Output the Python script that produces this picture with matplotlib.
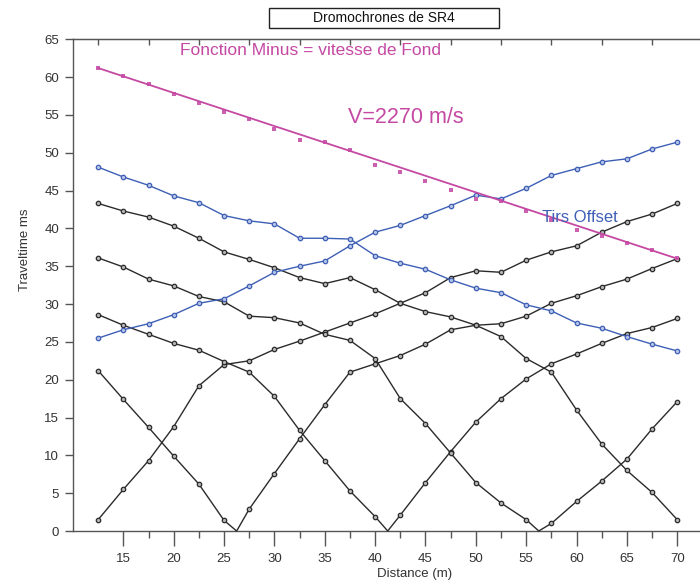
import numpy as np
import matplotlib
matplotlib.use("Agg")
import matplotlib.pyplot as plt
from matplotlib.patches import Rectangle
from matplotlib.ticker import FixedLocator

plt.rcParams["font.family"] = ["Liberation Sans", "DejaVu Sans"]

# geophone positions (m)
dist = [12.5, 15, 17.5, 20, 22.5, 25, 27.5, 30, 32.5, 35, 37.5, 40,
        42.5, 45, 47.5, 50, 52.5, 55, 57.5, 60, 62.5, 65, 67.5, 70]

# direct/refracted shots (black), shot position -> traveltimes (ms)
shot_left = [1.5, 5.5, 9.3, 13.8, 19.2, 22.0, 22.5, 24.0, 25.1, 26.3, 27.5, 28.7,
             30.1, 31.5, 33.5, 34.4, 34.2, 35.8, 36.9, 37.7, 39.5, 40.9, 41.9, 43.3]
shot_b_pos = 26.25
shot_b = [21.2, 17.4, 13.7, 9.9, 6.2, 1.4, 2.9, 7.6, 12.2, 16.7, 21.0, 22.1,
          23.2, 24.7, 26.6, 27.2, 27.4, 28.4, 30.1, 31.1, 32.3, 33.3, 34.7, 36.0]
shot_c_pos = 41.25
shot_c = [28.6, 27.2, 26.0, 24.8, 23.9, 22.4, 21.0, 17.8, 13.3, 9.3, 5.3, 1.9,
          2.1, 6.4, 10.5, 14.4, 17.5, 20.1, 22.1, 23.4, 24.8, 26.1, 26.9, 28.1]
shot_d_pos = 56.25
shot_d = [36.1, 34.9, 33.3, 32.4, 31.0, 30.3, 28.4, 28.2, 27.5, 26.0, 25.2, 22.8,
          17.5, 14.2, 10.3, 6.4, 3.7, 1.5, 1.0, 3.9, 6.6, 9.5, 13.5, 17.1]
shot_right = [43.3, 42.3, 41.5, 40.3, 38.7, 36.9, 35.9, 34.8, 33.5, 32.7, 33.5, 31.9,
              30.1, 29.0, 28.3, 27.2, 25.7, 22.8, 21.0, 16.0, 11.5, 8.0, 5.1, 1.5]

# offset shots (blue)
offset_right = [48.1, 46.8, 45.7, 44.3, 43.4, 41.7, 41.0, 40.6, 38.7, 38.7, 38.6, 36.4,
                35.4, 34.6, 33.2, 32.1, 31.5, 29.9, 29.1, 27.5, 26.8, 25.7, 24.7, 23.8]
offset_left = [25.5, 26.6, 27.4, 28.6, 30.1, 30.7, 32.4, 34.2, 35.0, 35.7, 37.7, 39.5,
               40.4, 41.7, 43.0, 44.4, 43.9, 45.3, 47.0, 47.9, 48.8, 49.2, 50.5, 51.4]

# minus function (magenta) and its fitted line
minus = [61.2, 60.1, 59.1, 57.8, 56.6, 55.4, 54.4, 53.2, 51.7, 51.4, 50.3, 48.4,
         47.5, 46.3, 45.1, 43.9, 43.6, 42.3, 41.1, 39.8, 39.0, 38.1, 37.1, 36.1]
fit_x = [12.5, 70]
fit_y = [61.2, 36.0]

black = "#2b2b2b"
blue = "#3e5fb6"
magenta = "#c549a3"
axcol = "#555555"

fig = plt.figure(figsize=(7, 5.85), dpi=100)
ax = fig.add_axes([73 / 700, 1 - 531 / 585, 627 / 700, (531 - 39.3) / 585])

x = np.array(dist)


def plot_shot(vals, pos=None, color=black):
    xs, ys = x, np.array(vals)
    marks = list(range(len(xs)))
    if pos is not None:
        k = np.searchsorted(xs, pos)
        xs = np.insert(xs, k, pos)
        ys = np.insert(ys, k, 0.0)
        marks = [i for i in range(len(xs)) if i != k]
    ax.plot(xs, ys, color=color, lw=1.0, marker="o", ms=3.2, mew=0.9,
            mfc="#b5b5b5" if color == black else "#b8c4e6", mec=color,
            markevery=marks, clip_on=False, zorder=3)


plot_shot(shot_left)
plot_shot(shot_b, shot_b_pos)
plot_shot(shot_c, shot_c_pos)
plot_shot(shot_d, shot_d_pos)
plot_shot(shot_right)
plot_shot(offset_right, color=blue)
plot_shot(offset_left, color=blue)

ax.plot(dist, minus, ls="none", marker="s", ms=2.3, color="#cc5fb0", mew=0, zorder=4)
ax.plot(fit_x, fit_y, color=magenta, lw=1.3, zorder=4)

ax.set_xlim(10, 72.26)
ax.set_ylim(0, 65)

ax.set_xticks([15, 20, 25, 30, 35, 40, 45, 50, 55, 60, 65, 70])
ax.xaxis.set_minor_locator(FixedLocator([17.5, 22.5, 27.5, 32.5, 37.5, 42.5,
                                         47.5, 52.5, 57.5, 62.5, 67.5]))
ax.set_yticks(range(0, 70, 5))
ax.tick_params(axis="x", which="major", direction="out", length=11, width=1,
               color=axcol, labelsize=9.5, labelcolor="#333333", pad=5)
ax.tick_params(axis="x", which="minor", direction="out", length=5, width=1, color=axcol)
ax.tick_params(axis="y", direction="out", length=6, width=1, color=axcol,
               labelsize=9.5, labelcolor="#333333", pad=4)

top = ax.secondary_xaxis("top")
top.set_xticks([12.5, 17.5, 22.5, 27.5, 32.5, 37.5, 42.5, 47.5, 52.5, 57.5, 62.5, 67.5])
top.tick_params(direction="in", length=4, width=1, color=axcol, labeltop=False)
top.spines["top"].set_color(axcol)

ax.spines["right"].set_visible(False)
for s in ["left", "bottom", "top"]:
    ax.spines[s].set_color(axcol)
    ax.spines[s].set_linewidth(1)

ax.text(20.6, 63.5, "Fonction Minus = vitesse de Fond", color=magenta,
        fontsize=12.5, ha="left", va="center")
ax.text(37.3, 54.6, "V=2270 m/s", color=magenta, fontsize=15.5, ha="left", va="center")
ax.text(56.6, 41.5, "Tirs Offset", color=blue, fontsize=12, ha="left", va="center",
        zorder=5)

fig.text(25 / 700, 1 - 250 / 585, "Traveltime ms", rotation=90, fontsize=9.5,
         color="#333333", ha="center", va="center")
fig.text(414.5 / 700, 1 - 574 / 585, "Distance (m)", fontsize=9.5,
         color="#333333", ha="center", va="center")

fig.patches.append(Rectangle((269 / 700, 1 - 28 / 585), 230 / 700, 20 / 585,
                             transform=fig.transFigure, fill=False,
                             edgecolor="#222222", lw=1))
fig.text(384 / 700, 1 - 18 / 585, "Dromochrones de SR4", fontsize=10,
         color="#111111", ha="center", va="center")

fig.savefig("out.png", dpi=100)
